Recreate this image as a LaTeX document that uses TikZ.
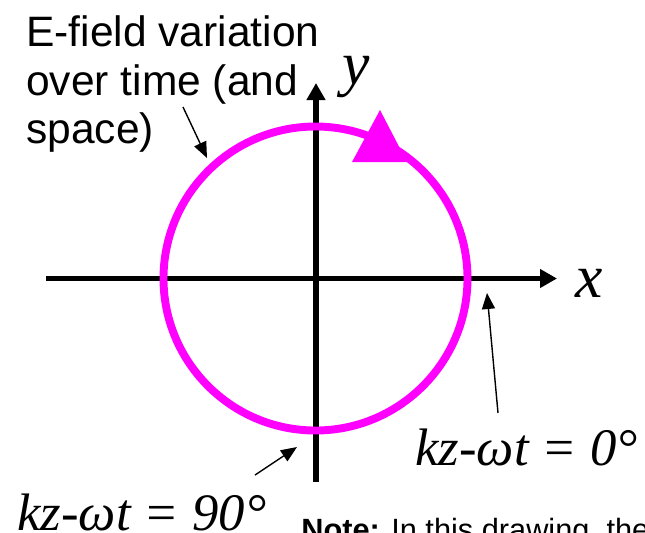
\documentclass[tikz,border=0pt]{standalone}
\usepackage{fontspec}
\setmainfont{Liberation Sans}
\newfontfamily\tms{Liberation Serif}
\usetikzlibrary{arrows.meta}
\definecolor{wavemag}{RGB}{255,0,255}
\tikzset{
  axisline/.style={draw=black,line width=3.4pt,-{Triangle[length=0.34cm,width=0.36cm]}},
  ringline/.style={draw=wavemag,line width=4.5pt},
  callline/.style={draw=black,line width=0.8pt,-{Triangle[length=0.32cm,width=0.26cm]}},
  labfont/.style={font=\fontsize{24.2}{27.8}\selectfont,inner sep=0pt},
  axfont/.style={font=\tms\itshape\fontsize{35}{35}\selectfont,inner sep=0pt},
  phasefont/.style={font=\tms\itshape\fontsize{30}{30}\selectfont,inner sep=0pt},
}
\begin{document}
\begin{tikzpicture}[x=0.02cm,y=-0.02cm]
  \useasboundingbox (0,0) rectangle (645,532);
  % axes
  \coordinate (xs) at (46,278.5); \coordinate (xe) at (557,278.5);
  \coordinate (ys) at (316,482); \coordinate (ye) at (316,83);
  \draw[axisline] (xs) -- (xe);
  \draw[axisline] (ys) -- (ye);
  \node[axfont,anchor=base west] (xlab) at (575,297) {x};
  \node[axfont,anchor=base west] (ylab) at (342,84) {y};
  % field ring and its sense
  \coordinate (o) at (315.5,278.5);
  \draw[ringline] (o) circle[radius=152];
  \fill[wavemag] (380,110) -- (352,162) -- (407,162) -- cycle;
  % labels
  \node[labfont,anchor=north west,align=left] (efield) at (26,15)
    {E-field variation\\over time (and\\space)};
  \node[phasefont,anchor=base west] (ph0) at (415,465) {kz-ωt = 0°};
  \node[phasefont,anchor=base west] (ph90) at (17,530) {kz-ωt = 90°};
  \node[font=\fontsize{17.5}{20}\selectfont,anchor=base west,inner sep=0pt] (note)
    at (301,540) {\textbf{Note:} In this drawing, the};
  % callouts
  \coordinate (efTail) at (183,107); \coordinate (efHead) at (207,158);
  \coordinate (zeroTail) at (498,413); \coordinate (zeroHead) at (487,293);
  \coordinate (ninTail) at (255,475); \coordinate (ninHead) at (297,447);
  \draw[callline] (efTail) -- (efHead);
  \draw[callline] (zeroTail) -- (zeroHead);
  \draw[callline] (ninTail) -- (ninHead);
\end{tikzpicture}
\end{document}
